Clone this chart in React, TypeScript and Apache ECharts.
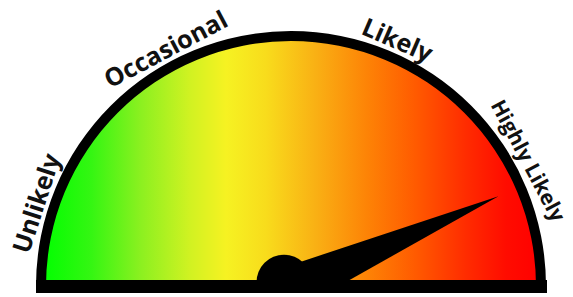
import React, { useEffect, useRef } from "react";
import * as echarts from "echarts";

// Gauge zone labels and their positions on a 0–100 scale (0 = left, 100 = right)
const categories = ["Unlikely", "Occasional", "Likely", "Highly Likely"];
const categoryPositions = [10, 34.5, 63, 84.5];

// Needle reading
const needleValue = [87];

// Colour ramp of the dial face, left to right
const rampOffsets = [0, 0.1, 0.2, 0.3, 0.37, 0.45, 0.55, 0.65, 0.75, 0.85, 0.93, 1];
const rampColors = [
  "#00ff00",
  "#34f612",
  "#8cf020",
  "#d2f222",
  "#f6f222",
  "#f8dc1c",
  "#f9b014",
  "#fd8406",
  "#ff5a00",
  "#ff2c00",
  "#ff0c00",
  "#ff0000",
];

export default function App() {
  const ref = useRef<HTMLDivElement>(null);

  useEffect(() => {
    document.body.style.margin = "0";
    if (!ref.current) return;
    const chart = echarts.init(ref.current, undefined, { renderer: "svg" });

    const cx = 291;
    const cy = 286;
    const faceR = 250;
    const rimR = 255;

    const gradient = new echarts.graphic.LinearGradient(
      0,
      0,
      1,
      0,
      rampOffsets.map((o, i) => ({ offset: o, color: rampColors[i] }))
    );

    const common = {
      type: "gauge" as const,
      center: [cx, cy],
      startAngle: 180,
      endAngle: 0,
      min: 0,
      max: 100,
      axisTick: { show: false },
      splitLine: { show: false, length: 0, distance: 0 },
      title: { show: false },
      detail: { show: false },
    };

    const labelFont = {
      fontWeight: "bold" as const,
      fontFamily: "Open Sans",
      color: "#111",
    };

    chart.setOption({
      animation: false,
      series: [
        {
          ...common,
          radius: faceR,
          splitNumber: 10,
          axisLine: { lineStyle: { width: faceR, color: [[1, gradient]] } },
          axisLabel: { show: false },
          pointer: {
            show: true,
            icon: "path://M10,0 L20,85 L10,100 L0,100 Z",
            length: 226,
            width: 40,
            keepAspect: false,
            offsetCenter: [0, 0],
            itemStyle: { color: "#000" },
          },
          anchor: {
            show: true,
            showAbove: true,
            icon: "path://M0,50 A50,50 0 0 1 100,50 Z",
            keepAspect: true,
            size: 55,
            offsetCenter: [-7, -17.5],
            itemStyle: { color: "#000" },
          },
          data: needleValue.map((v) => ({ value: v })),
        },
        {
          ...common,
          radius: rimR,
          splitNumber: 200,
          axisLine: { lineStyle: { width: 10, color: [[1, "#000"]] } },
          pointer: { show: false },
          anchor: { show: false },
          axisLabel: {
            show: true,
            distance: -14,
            rotate: "tangential",
            fontSize: 25,
            ...labelFont,
            rich: {
              big: { fontSize: 25, ...labelFont },
              small: { fontSize: 21, ...labelFont },
            },
            formatter: (v: number) => {
              const key = Math.round(v * 2) / 2;
              const idx = categoryPositions.indexOf(key);
              if (idx < 0) return "";
              const style = idx === categories.length - 1 ? "small" : "big";
              return `{${style}|${categories[idx]}}`;
            },
          },
          data: [],
        },
      ],
      graphic: [
        {
          type: "rect",
          z: 10,
          shape: { x: cx - rimR, y: 280, width: rimR * 2 + 1, height: 13 },
          style: { fill: "#000" },
        },
      ],
    });

    return () => chart.dispose();
  }, []);

  return <div ref={ref} style={{ width: 573, height: 297 }} />;
}
